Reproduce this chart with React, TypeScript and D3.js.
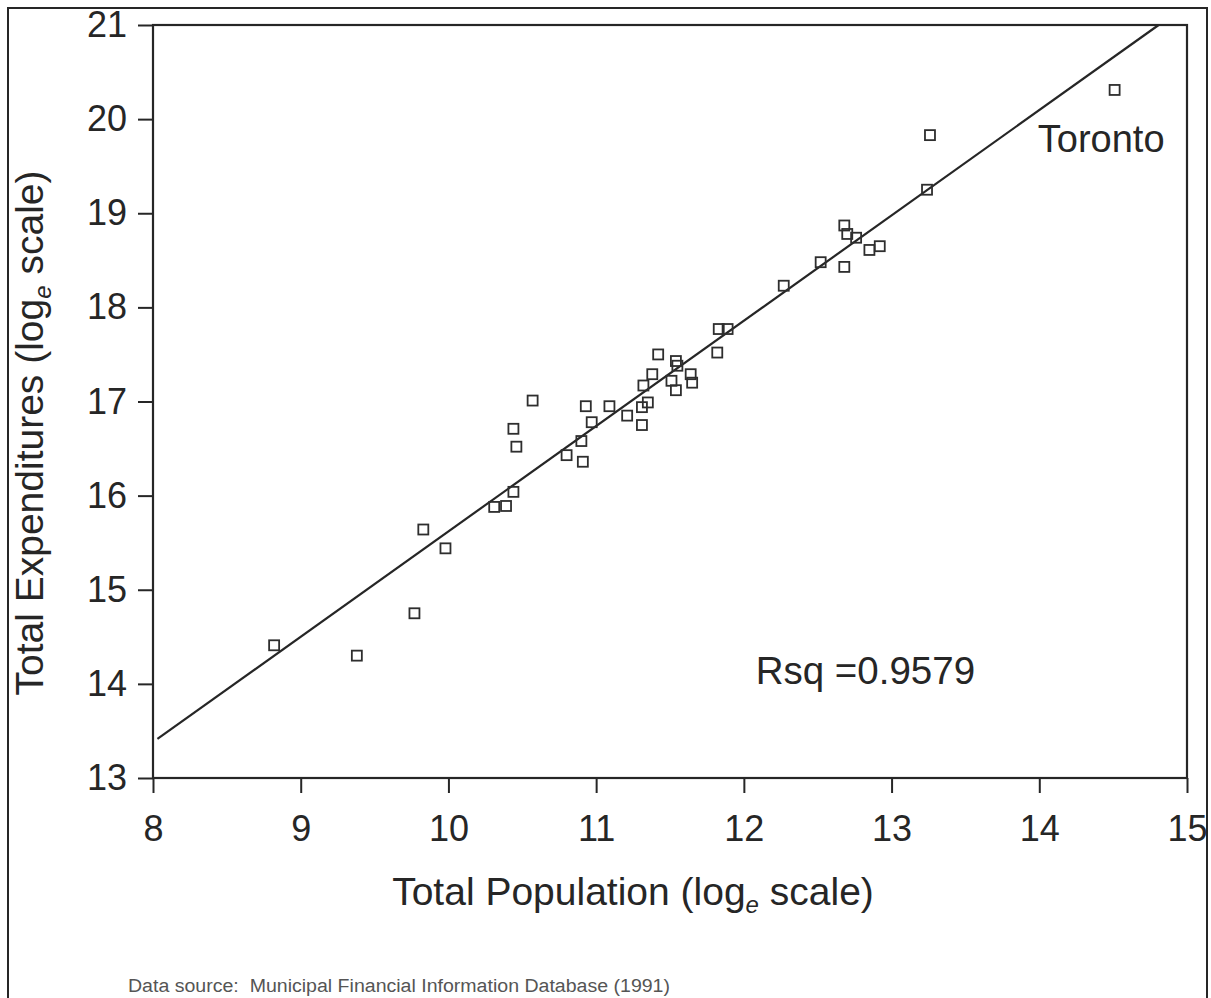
import React, { useEffect, useRef } from "react";
import * as d3 from "d3";

// log_e population / log_e expenditures
const population = [
  8.82, 9.38, 9.77, 9.83, 9.98, 10.31, 10.39, 10.44, 10.46, 10.44, 10.57,
  10.8, 10.9, 10.91, 10.93, 10.97, 11.09, 11.21, 11.31, 11.31, 11.35, 11.32,
  11.38, 11.42, 11.54, 11.55, 11.51, 11.54, 11.64, 11.65, 11.82, 11.83, 11.89,
  12.27, 12.52, 12.68, 12.68, 12.7, 12.76, 12.85, 12.92, 13.24, 13.26, 14.51,
];
const expenditures = [
  14.41, 14.3, 14.75, 15.64, 15.44, 15.88, 15.89, 16.04, 16.52, 16.71, 17.01,
  16.43, 16.58, 16.36, 16.95, 16.78, 16.95, 16.85, 16.75, 16.94, 16.99, 17.17,
  17.29, 17.5, 17.43, 17.38, 17.22, 17.12, 17.29, 17.2, 17.52, 17.77, 17.77,
  18.23, 18.48, 18.43, 18.87, 18.78, 18.74, 18.61, 18.65, 19.25, 19.83, 20.31,
];

const xTicks = [8, 9, 10, 11, 12, 13, 14, 15];
const yTicks = [13, 14, 15, 16, 17, 18, 19, 20, 21];

// fitted line
const fitIntercept = 4.43;
const fitSlope = 1.119;
const rsqLabel = "Rsq =0.9579";

const FONT = "'Liberation Sans', Arial, Helvetica, sans-serif";
const INK = "#262626";

const App = () => {
  const svgRef = useRef<SVGSVGElement>(null);

  useEffect(() => {
    const width = 1211;
    const height = 998;
    const margin = { top: 25, right: 24, bottom: 220, left: 153 };

    const svg = d3
      .select(svgRef.current)
      .attr("width", width)
      .attr("height", height)
      .style("font-family", FONT)
      .style("background", "#fff");

    svg.selectAll("*").remove();

    const x = d3
      .scaleLinear()
      .domain([8, 15])
      .range([margin.left, width - margin.right]);
    const y = d3
      .scaleLinear()
      .domain([13, 21])
      .range([height - margin.bottom, margin.top]);

    // outer frame
    svg
      .append("rect")
      .attr("x", 8)
      .attr("y", 8)
      .attr("width", 1199)
      .attr("height", 1010)
      .attr("fill", "none")
      .attr("stroke", INK)
      .attr("stroke-width", 2);

    // plot box
    svg
      .append("rect")
      .attr("x", x(8))
      .attr("y", y(21))
      .attr("width", x(15) - x(8))
      .attr("height", y(13) - y(21))
      .attr("fill", "none")
      .attr("stroke", INK)
      .attr("stroke-width", 2.2);

    // axes
    const gx = svg
      .append("g")
      .attr("transform", `translate(0, ${y(13)})`)
      .call(
        d3
          .axisBottom(x)
          .tickValues(xTicks)
          .tickFormat(d3.format("d"))
          .tickSize(15)
          .tickPadding(22)
          .tickSizeOuter(0)
      );
    gx.select(".domain").remove();
    gx.selectAll("line").attr("stroke", INK).attr("stroke-width", 2);
    gx.selectAll("text")
      .attr("fill", INK)
      .style("font-family", FONT)
      .style("font-size", "36px");

    const gy = svg
      .append("g")
      .attr("transform", `translate(${x(8)}, 0)`)
      .call(
        d3
          .axisLeft(y)
          .tickValues(yTicks)
          .tickFormat(d3.format("d"))
          .tickSize(15)
          .tickPadding(11)
          .tickSizeOuter(0)
      );
    gy.select(".domain").remove();
    gy.selectAll("line").attr("stroke", INK).attr("stroke-width", 2);
    gy.selectAll("text")
      .attr("fill", INK)
      .style("font-family", FONT)
      .style("font-size", "36px");

    // regression line, clipped to plot top
    const xEnd = Math.min(15, (21 - fitIntercept) / fitSlope);
    const line = d3
      .line<number>()
      .x((d) => x(d))
      .y((d) => y(fitIntercept + fitSlope * d));
    svg
      .append("path")
      .datum([8.03, xEnd])
      .attr("d", line)
      .attr("fill", "none")
      .attr("stroke", INK)
      .attr("stroke-width", 2.2);

    // points
    const pts = population.map((p, i) => ({ p, e: expenditures[i] }));
    const s = 10;
    svg
      .append("g")
      .selectAll("rect")
      .data(pts)
      .join("rect")
      .attr("x", (d) => x(d.p) - s / 2)
      .attr("y", (d) => y(d.e) - s / 2)
      .attr("width", s)
      .attr("height", s)
      .attr("fill", "none")
      .attr("stroke", "#2e2e2e")
      .attr("stroke-width", 1.8);

    // annotations
    svg
      .append("text")
      .attr("x", x(13.99))
      .attr("y", y(19.65))
      .attr("fill", INK)
      .style("font-size", "38px")
      .text("Toronto");

    svg
      .append("text")
      .attr("x", x(12.08))
      .attr("y", y(14.0))
      .attr("fill", INK)
      .style("font-size", "38.5px")
      .text(rsqLabel);

    // axis titles
    const xt = svg
      .append("text")
      .attr("x", 633)
      .attr("y", 905)
      .attr("text-anchor", "middle")
      .attr("fill", INK)
      .style("font-size", "39px");
    xt.append("tspan").text("Total Population (log");
    xt.append("tspan")
      .attr("dy", 8)
      .style("font-size", "24px")
      .style("font-style", "italic")
      .text("e");
    xt.append("tspan").attr("dy", -8).text(" scale)");

    const yt = svg
      .append("text")
      .attr("transform", `translate(43, 433) rotate(-90)`)
      .attr("text-anchor", "middle")
      .attr("fill", INK)
      .style("font-size", "39px");
    yt.append("tspan").text("Total Expenditures (log");
    yt.append("tspan")
      .attr("dy", 8)
      .style("font-size", "24px")
      .style("font-style", "italic")
      .text("e");
    yt.append("tspan").attr("dy", -8).text(" scale)");

    // source note
    svg
      .append("text")
      .attr("x", 128)
      .attr("y", 992)
      .attr("fill", "#555")
      .style("font-size", "18px")
      .attr("textLength", 542)
      .attr("lengthAdjust", "spacingAndGlyphs")
      .attr("xml:space", "preserve")
      .text("Data source:  Municipal Financial Information Database (1991)");
  }, []);

  return (
    <div style={{ position: "absolute", left: 0, top: 0 }}>
      <svg ref={svgRef} style={{ display: "block" }}></svg>
    </div>
  );
};

export default App;
